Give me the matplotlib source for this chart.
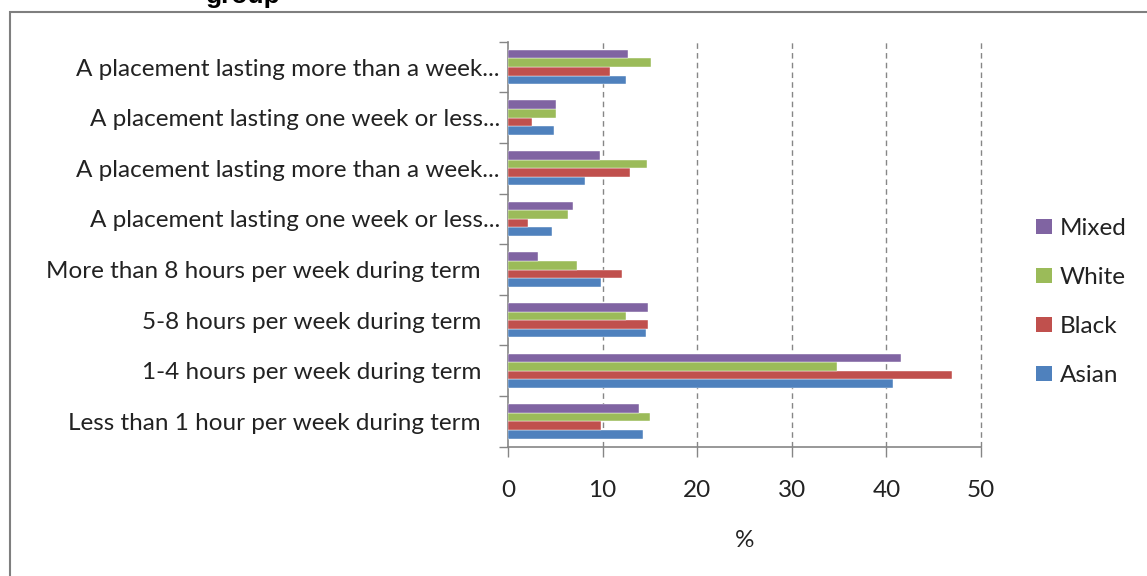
import matplotlib.pyplot as plt
import matplotlib.transforms as mtransforms
from matplotlib.patches import Rectangle, Patch
import numpy as np

# categories listed bottom to top (as in the chart)
categories = [
    'Less than 1 hour per week during term',
    '1-4 hours per week during term',
    '5-8 hours per week during term',
    'More than 8 hours per week during term',
    'A placement lasting one week or less...',
    'A placement lasting more than a week...',
    'A placement lasting one week or less...',
    'A placement lasting more than a week...',
]
asian = [14.3, 40.7, 14.6, 9.8, 4.7, 8.1, 4.9, 12.5]
black = [9.8, 46.9, 14.8, 12.0, 2.1, 12.9, 2.5, 10.8]
white = [15.0, 34.8, 12.5, 7.3, 6.3, 14.7, 5.1, 15.1]
mixed = [13.9, 41.5, 14.8, 3.2, 6.9, 9.7, 5.1, 12.7]
series_names = ['Asian', 'Black', 'White', 'Mixed']
xticks = [0, 10, 20, 30, 40, 50]

colors = ['#4F81BD', '#C0504D', '#9BBB59', '#8064A2']
plt.rcParams['font.family'] = ['Lato', 'DejaVu Sans']
fs = 17.5
txt = '#222222'

fig = plt.figure(figsize=(11.47, 5.76), dpi=100)
ax = fig.add_axes([508 / 1147, 1 - 446.7 / 576, 473 / 1147, 405 / 576])

y = np.arange(len(categories))
h = 0.17
for k, (vals, c) in enumerate(zip([asian, black, white, mixed], colors)):
    ax.barh(y + (k - 1.5) * h, vals, height=h, color=c, label=series_names[k],
            edgecolor='white', linewidth=0.3, zorder=3)

ax.set_ylim(-0.5, len(categories) - 0.5)
ax.set_xlim(0, 50)
ax.set_xticks(xticks)
ax.set_yticks(y)
ax.set_yticklabels(categories, fontsize=fs, color=txt)
ax.set_yticks(np.arange(len(categories) + 1) - 0.5, minor=True)
ax.tick_params(axis='y', which='major', length=0, pad=19.5)
ax.tick_params(axis='y', which='minor', length=6.5, color='#868686', width=1)
ax.tick_params(axis='x', length=7, color='#868686', width=1, pad=17,
               labelsize=fs, labelcolor=txt)

for lab in ax.get_yticklabels():
    if lab.get_text().endswith('...'):
        lab.set_transform(lab.get_transform() +
                          mtransforms.ScaledTranslation(0.19, 0, fig.dpi_scale_trans))

for xv in xticks[1:]:
    ax.axvline(xv, color='#868686', linestyle=(0, (4, 3)), linewidth=1,
               zorder=1, clip_on=False)

for s in ['top', 'right']:
    ax.spines[s].set_visible(False)
for s in ['left', 'bottom']:
    ax.spines[s].set_color('#868686')
    ax.spines[s].set_linewidth(1.2)

ax.set_xlabel('%', fontsize=fs, labelpad=21, color=txt)

handles = [Patch(facecolor=c) for c in colors][::-1]
fig.legend(handles, series_names[::-1], loc='upper left',
           bbox_to_anchor=(1036 / 1147, 1 - 218 / 576), frameon=False,
           fontsize=fs, handlelength=0.66, handleheight=0.58,
           labelspacing=1.15, handletextpad=0.33, borderpad=0,
           borderaxespad=0, labelcolor=txt)

# outer chart border and cut-off title
fig.patches.append(Rectangle((9.5 / 1147, -0.1), 1.2, 1.1 - 12.5 / 576,
                             transform=fig.transFigure, fill=False,
                             edgecolor='#7f7f7f', linewidth=1.5))
fig.text(243 / 1147, 1 - 3 / 576, 'group', ha='center', va='baseline',
         fontsize=19, fontweight='bold', family='Liberation Sans')

fig.savefig('out.png', dpi=100)
